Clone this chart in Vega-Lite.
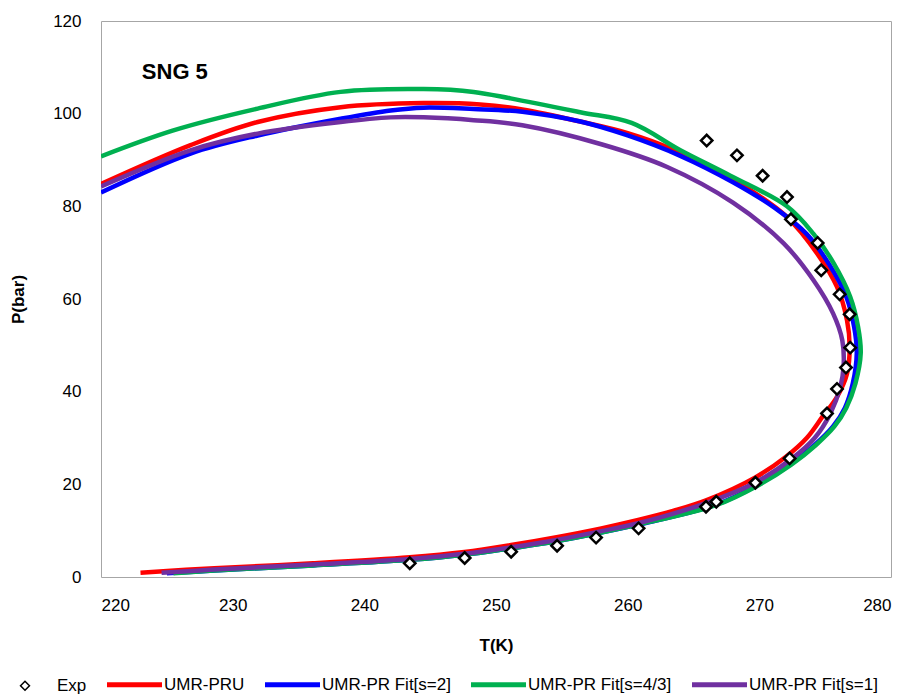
{
  "$schema": "https://vega.github.io/schema/vega-lite/v6.json",
  "width": 790,
  "height": 556,
  "autosize": {"type": "none"},
  "padding": {"left": 101, "top": 21, "right": 22, "bottom": 119},
  "background": "white",
  "config": {
    "view": {"stroke": "#a6a6a6", "strokeWidth": 1},
    "font": "Liberation Sans"
  },
  "datasets": {
    "curves": [
      {"series": "UMR-PRU", "i": 1, "T": 223.0, "P": 0.93},
      {"series": "UMR-PRU", "i": 2, "T": 228.6, "P": 1.9},
      {"series": "UMR-PRU", "i": 3, "T": 236.1, "P": 2.95},
      {"series": "UMR-PRU", "i": 4, "T": 243.45, "P": 4.25},
      {"series": "UMR-PRU", "i": 5, "T": 247.6, "P": 5.4},
      {"series": "UMR-PRU", "i": 6, "T": 251.15, "P": 6.9},
      {"series": "UMR-PRU", "i": 7, "T": 254.6, "P": 8.6},
      {"series": "UMR-PRU", "i": 8, "T": 258.0, "P": 10.5},
      {"series": "UMR-PRU", "i": 9, "T": 260.8, "P": 12.3},
      {"series": "UMR-PRU", "i": 10, "T": 263.5, "P": 14.3},
      {"series": "UMR-PRU", "i": 11, "T": 266.0, "P": 16.6},
      {"series": "UMR-PRU", "i": 12, "T": 269.7, "P": 21.5},
      {"series": "UMR-PRU", "i": 13, "T": 272.0, "P": 25.9},
      {"series": "UMR-PRU", "i": 14, "T": 273.6, "P": 30.0},
      {"series": "UMR-PRU", "i": 15, "T": 274.8, "P": 34.6},
      {"series": "UMR-PRU", "i": 16, "T": 275.9, "P": 38.9},
      {"series": "UMR-PRU", "i": 17, "T": 276.66, "P": 43.9},
      {"series": "UMR-PRU", "i": 18, "T": 276.86, "P": 49.7},
      {"series": "UMR-PRU", "i": 19, "T": 276.66, "P": 55.4},
      {"series": "UMR-PRU", "i": 20, "T": 275.9, "P": 62.6},
      {"series": "UMR-PRU", "i": 21, "T": 274.4, "P": 69.8},
      {"series": "UMR-PRU", "i": 22, "T": 272.1, "P": 77.7},
      {"series": "UMR-PRU", "i": 23, "T": 268.0, "P": 85.8},
      {"series": "UMR-PRU", "i": 24, "T": 263.5, "P": 92.2},
      {"series": "UMR-PRU", "i": 25, "T": 260.0, "P": 95.8},
      {"series": "UMR-PRU", "i": 26, "T": 256.4, "P": 98.3},
      {"series": "UMR-PRU", "i": 27, "T": 252.0, "P": 100.9},
      {"series": "UMR-PRU", "i": 28, "T": 248.8, "P": 102.0},
      {"series": "UMR-PRU", "i": 29, "T": 244.5, "P": 102.3},
      {"series": "UMR-PRU", "i": 30, "T": 238.2, "P": 101.4},
      {"series": "UMR-PRU", "i": 31, "T": 231.9, "P": 98.2},
      {"series": "UMR-PRU", "i": 32, "T": 226.8, "P": 93.2},
      {"series": "UMR-PRU", "i": 33, "T": 220.0, "P": 84.8},

      {"series": "UMR-PR Fit[s=2]", "i": 1, "T": 225.0, "P": 0.8},
      {"series": "UMR-PR Fit[s=2]", "i": 2, "T": 228.6, "P": 1.4},
      {"series": "UMR-PR Fit[s=2]", "i": 3, "T": 236.1, "P": 2.5},
      {"series": "UMR-PR Fit[s=2]", "i": 4, "T": 243.45, "P": 3.7},
      {"series": "UMR-PR Fit[s=2]", "i": 5, "T": 247.6, "P": 4.8},
      {"series": "UMR-PR Fit[s=2]", "i": 6, "T": 251.15, "P": 6.2},
      {"series": "UMR-PR Fit[s=2]", "i": 7, "T": 254.6, "P": 7.7},
      {"series": "UMR-PR Fit[s=2]", "i": 8, "T": 258.0, "P": 9.6},
      {"series": "UMR-PR Fit[s=2]", "i": 9, "T": 260.8, "P": 11.3},
      {"series": "UMR-PR Fit[s=2]", "i": 10, "T": 266.7, "P": 15.6},
      {"series": "UMR-PR Fit[s=2]", "i": 11, "T": 269.7, "P": 19.6},
      {"series": "UMR-PR Fit[s=2]", "i": 12, "T": 272.3, "P": 24.2},
      {"series": "UMR-PR Fit[s=2]", "i": 13, "T": 274.2, "P": 28.5},
      {"series": "UMR-PR Fit[s=2]", "i": 14, "T": 275.6, "P": 32.5},
      {"series": "UMR-PR Fit[s=2]", "i": 15, "T": 276.5, "P": 36.5},
      {"series": "UMR-PR Fit[s=2]", "i": 16, "T": 277.1, "P": 41.8},
      {"series": "UMR-PR Fit[s=2]", "i": 17, "T": 277.4, "P": 48.3},
      {"series": "UMR-PR Fit[s=2]", "i": 18, "T": 277.2, "P": 54.0},
      {"series": "UMR-PR Fit[s=2]", "i": 19, "T": 276.6, "P": 60.5},
      {"series": "UMR-PR Fit[s=2]", "i": 20, "T": 275.3, "P": 67.5},
      {"series": "UMR-PR Fit[s=2]", "i": 21, "T": 273.6, "P": 74.0},
      {"series": "UMR-PR Fit[s=2]", "i": 22, "T": 271.2, "P": 79.6},
      {"series": "UMR-PR Fit[s=2]", "i": 23, "T": 268.0, "P": 85.2},
      {"series": "UMR-PR Fit[s=2]", "i": 24, "T": 264.0, "P": 90.9},
      {"series": "UMR-PR Fit[s=2]", "i": 25, "T": 260.0, "P": 95.3},
      {"series": "UMR-PR Fit[s=2]", "i": 26, "T": 256.4, "P": 98.3},
      {"series": "UMR-PR Fit[s=2]", "i": 27, "T": 252.0, "P": 100.4},
      {"series": "UMR-PR Fit[s=2]", "i": 28, "T": 248.3, "P": 101.0},
      {"series": "UMR-PR Fit[s=2]", "i": 29, "T": 244.5, "P": 101.3},
      {"series": "UMR-PR Fit[s=2]", "i": 30, "T": 242.0, "P": 100.7},
      {"series": "UMR-PR Fit[s=2]", "i": 31, "T": 238.2, "P": 98.9},
      {"series": "UMR-PR Fit[s=2]", "i": 32, "T": 231.9, "P": 95.3},
      {"series": "UMR-PR Fit[s=2]", "i": 33, "T": 226.8, "P": 91.4},
      {"series": "UMR-PR Fit[s=2]", "i": 34, "T": 220.0, "P": 83.0},

      {"series": "UMR-PR Fit[s=4/3]", "i": 1, "T": 225.5, "P": 0.8},
      {"series": "UMR-PR Fit[s=4/3]", "i": 2, "T": 228.6, "P": 1.4},
      {"series": "UMR-PR Fit[s=4/3]", "i": 3, "T": 236.1, "P": 2.5},
      {"series": "UMR-PR Fit[s=4/3]", "i": 4, "T": 243.45, "P": 3.7},
      {"series": "UMR-PR Fit[s=4/3]", "i": 5, "T": 247.6, "P": 4.8},
      {"series": "UMR-PR Fit[s=4/3]", "i": 6, "T": 251.15, "P": 6.2},
      {"series": "UMR-PR Fit[s=4/3]", "i": 7, "T": 254.6, "P": 7.7},
      {"series": "UMR-PR Fit[s=4/3]", "i": 8, "T": 258.0, "P": 9.6},
      {"series": "UMR-PR Fit[s=4/3]", "i": 9, "T": 260.8, "P": 11.3},
      {"series": "UMR-PR Fit[s=4/3]", "i": 10, "T": 266.8, "P": 15.6},
      {"series": "UMR-PR Fit[s=4/3]", "i": 11, "T": 269.8, "P": 19.6},
      {"series": "UMR-PR Fit[s=4/3]", "i": 12, "T": 272.4, "P": 24.2},
      {"series": "UMR-PR Fit[s=4/3]", "i": 13, "T": 274.3, "P": 28.5},
      {"series": "UMR-PR Fit[s=4/3]", "i": 14, "T": 275.7, "P": 32.5},
      {"series": "UMR-PR Fit[s=4/3]", "i": 15, "T": 276.6, "P": 36.5},
      {"series": "UMR-PR Fit[s=4/3]", "i": 16, "T": 277.3, "P": 41.8},
      {"series": "UMR-PR Fit[s=4/3]", "i": 17, "T": 277.7, "P": 48.3},
      {"series": "UMR-PR Fit[s=4/3]", "i": 18, "T": 277.5, "P": 54.0},
      {"series": "UMR-PR Fit[s=4/3]", "i": 19, "T": 276.9, "P": 60.5},
      {"series": "UMR-PR Fit[s=4/3]", "i": 20, "T": 275.65, "P": 67.7},
      {"series": "UMR-PR Fit[s=4/3]", "i": 21, "T": 274.1, "P": 74.1},
      {"series": "UMR-PR Fit[s=4/3]", "i": 22, "T": 272.1, "P": 80.0},
      {"series": "UMR-PR Fit[s=4/3]", "i": 23, "T": 267.8, "P": 86.6},
      {"series": "UMR-PR Fit[s=4/3]", "i": 24, "T": 264.0, "P": 92.1},
      {"series": "UMR-PR Fit[s=4/3]", "i": 25, "T": 260.3, "P": 98.0},
      {"series": "UMR-PR Fit[s=4/3]", "i": 26, "T": 256.4, "P": 100.3},
      {"series": "UMR-PR Fit[s=4/3]", "i": 27, "T": 251.1, "P": 103.3},
      {"series": "UMR-PR Fit[s=4/3]", "i": 28, "T": 248.3, "P": 104.7},
      {"series": "UMR-PR Fit[s=4/3]", "i": 29, "T": 244.5, "P": 105.3},
      {"series": "UMR-PR Fit[s=4/3]", "i": 30, "T": 238.2, "P": 104.7},
      {"series": "UMR-PR Fit[s=4/3]", "i": 31, "T": 231.9, "P": 101.1},
      {"series": "UMR-PR Fit[s=4/3]", "i": 32, "T": 225.5, "P": 96.4},
      {"series": "UMR-PR Fit[s=4/3]", "i": 33, "T": 220.0, "P": 90.8},

      {"series": "UMR-PR Fit[s=1]", "i": 1, "T": 224.6, "P": 0.93},
      {"series": "UMR-PR Fit[s=1]", "i": 2, "T": 228.6, "P": 1.6},
      {"series": "UMR-PR Fit[s=1]", "i": 3, "T": 236.1, "P": 2.7},
      {"series": "UMR-PR Fit[s=1]", "i": 4, "T": 243.45, "P": 3.9},
      {"series": "UMR-PR Fit[s=1]", "i": 5, "T": 247.6, "P": 5.0},
      {"series": "UMR-PR Fit[s=1]", "i": 6, "T": 251.15, "P": 6.4},
      {"series": "UMR-PR Fit[s=1]", "i": 7, "T": 254.6, "P": 8.0},
      {"series": "UMR-PR Fit[s=1]", "i": 8, "T": 258.0, "P": 9.9},
      {"series": "UMR-PR Fit[s=1]", "i": 9, "T": 260.8, "P": 11.6},
      {"series": "UMR-PR Fit[s=1]", "i": 10, "T": 266.0, "P": 16.0},
      {"series": "UMR-PR Fit[s=1]", "i": 11, "T": 269.7, "P": 20.4},
      {"series": "UMR-PR Fit[s=1]", "i": 12, "T": 272.5, "P": 25.6},
      {"series": "UMR-PR Fit[s=1]", "i": 13, "T": 274.2, "P": 30.0},
      {"series": "UMR-PR Fit[s=1]", "i": 14, "T": 275.4, "P": 35.3},
      {"series": "UMR-PR Fit[s=1]", "i": 15, "T": 276.15, "P": 41.0},
      {"series": "UMR-PR Fit[s=1]", "i": 16, "T": 276.4, "P": 45.4},
      {"series": "UMR-PR Fit[s=1]", "i": 17, "T": 276.3, "P": 51.1},
      {"series": "UMR-PR Fit[s=1]", "i": 18, "T": 275.6, "P": 56.9},
      {"series": "UMR-PR Fit[s=1]", "i": 19, "T": 274.1, "P": 64.1},
      {"series": "UMR-PR Fit[s=1]", "i": 20, "T": 271.85, "P": 72.0},
      {"series": "UMR-PR Fit[s=1]", "i": 21, "T": 268.0, "P": 80.8},
      {"series": "UMR-PR Fit[s=1]", "i": 22, "T": 263.0, "P": 88.5},
      {"series": "UMR-PR Fit[s=1]", "i": 23, "T": 258.0, "P": 93.4},
      {"series": "UMR-PR Fit[s=1]", "i": 24, "T": 252.0, "P": 97.5},
      {"series": "UMR-PR Fit[s=1]", "i": 25, "T": 248.3, "P": 98.6},
      {"series": "UMR-PR Fit[s=1]", "i": 26, "T": 244.5, "P": 99.2},
      {"series": "UMR-PR Fit[s=1]", "i": 27, "T": 242.0, "P": 99.2},
      {"series": "UMR-PR Fit[s=1]", "i": 28, "T": 238.2, "P": 98.2},
      {"series": "UMR-PR Fit[s=1]", "i": 29, "T": 231.9, "P": 95.7},
      {"series": "UMR-PR Fit[s=1]", "i": 30, "T": 226.8, "P": 92.1},
      {"series": "UMR-PR Fit[s=1]", "i": 31, "T": 220.0, "P": 84.3}
    ],
    "exp": [
      {"series": "Exp", "T": 243.45, "P": 2.96},
      {"series": "Exp", "T": 247.62, "P": 4.1},
      {"series": "Exp", "T": 251.15, "P": 5.46},
      {"series": "Exp", "T": 254.64, "P": 6.75},
      {"series": "Exp", "T": 257.6, "P": 8.5},
      {"series": "Exp", "T": 260.83, "P": 10.5},
      {"series": "Exp", "T": 265.95, "P": 15.16},
      {"series": "Exp", "T": 266.73, "P": 16.24},
      {"series": "Exp", "T": 269.7, "P": 20.34},
      {"series": "Exp", "T": 272.3, "P": 25.6},
      {"series": "Exp", "T": 275.14, "P": 35.3},
      {"series": "Exp", "T": 275.9, "P": 40.6},
      {"series": "Exp", "T": 276.58, "P": 45.2},
      {"series": "Exp", "T": 276.9, "P": 49.5},
      {"series": "Exp", "T": 276.86, "P": 56.7},
      {"series": "Exp", "T": 276.1, "P": 61.0},
      {"series": "Exp", "T": 274.7, "P": 66.2},
      {"series": "Exp", "T": 274.43, "P": 72.1},
      {"series": "Exp", "T": 272.4, "P": 77.2},
      {"series": "Exp", "T": 272.1, "P": 82.0},
      {"series": "Exp", "T": 270.25, "P": 86.6},
      {"series": "Exp", "T": 268.3, "P": 91.0},
      {"series": "Exp", "T": 266.0, "P": 94.2}
    ]
  },
  "layer": [
    {
      "data": {"name": "curves"},
      "mark": {"type": "line", "strokeWidth": 4.5, "interpolate": "catmull-rom", "clip": true},
      "encoding": {
        "x": {
          "field": "T", "type": "quantitative",
          "scale": {"domain": [220, 280], "nice": false, "zero": false},
          "axis": {
            "values": [220, 230, 240, 250, 260, 270, 280],
            "grid": false, "ticks": false, "tickSize": 0, "domain": false,
            "labelFontSize": 17, "labelPadding": 20, "labelColor": "black",
            "title": "T(K)", "titleFontSize": 17, "titleFontWeight": "bold",
            "titleColor": "black",
            "titleY": 68, "titleBaseline": "middle"
          }
        },
        "y": {
          "field": "P", "type": "quantitative",
          "scale": {"domain": [0, 120], "nice": false},
          "axis": {
            "values": [0, 20, 40, 60, 80, 100, 120],
            "grid": false, "ticks": false, "tickSize": 0, "domain": false,
            "labelFontSize": 17, "labelPadding": 20, "labelColor": "black",
            "title": "P(bar)", "titleFontSize": 17, "titleFontWeight": "bold",
            "titleColor": "black",
            "titleX": -83, "titleY": 278, "titleAngle": -90,
            "titleAlign": "center", "titleBaseline": "middle"
          }
        },
        "color": {
          "field": "series", "type": "nominal",
          "scale": {
            "domain": ["Exp", "UMR-PRU", "UMR-PR Fit[s=2]", "UMR-PR Fit[s=4/3]", "UMR-PR Fit[s=1]"],
            "range": ["#000000", "#ff0000", "#0000ff", "#00b050", "#7030a0"]
          },
          "legend": {
            "orient": "none", "legendX": -101, "legendY": 655,
            "direction": "horizontal", "columns": 5, "title": null,
            "padding": 0, "symbolType": "stroke", "symbolSize": 3025,
            "symbolStrokeWidth": 5, "labelFontSize": 17, "labelOffset": 2,
            "labelColor": "black",
            "columnPadding": 10,
            "encode": {
              "symbols": {
                "update": {
                  "x": {"signal": "datum.value === 'Exp' ? 25 : 27.5"},
                  "shape": {"signal": "datum.value === 'Exp' ? 'diamond' : 'stroke'"},
                  "size": {"signal": "datum.value === 'Exp' ? 80 : 3025"},
                  "strokeWidth": {"signal": "datum.value === 'Exp' ? 1.5 : 5"},
                  "fill": {"signal": "datum.value === 'Exp' ? 'white' : 'transparent'"}
                }
              },
              "labels": {
                "update": {
                  "x": {"value": 57}
                }
              }
            }
          }
        },
        "order": {"field": "i", "type": "quantitative"}
      }
    },
    {
      "data": {"name": "exp"},
      "mark": {"type": "point", "shape": "diamond", "size": 130, "filled": true, "fill": "white", "stroke": "black", "strokeWidth": 2.5, "opacity": 1},
      "encoding": {
        "x": {"field": "T", "type": "quantitative"},
        "y": {"field": "P", "type": "quantitative"}
      }
    },
    {
      "data": {"values": [{"label": "SNG 5"}]},
      "mark": {"type": "text", "align": "left", "baseline": "middle", "fontSize": 22, "fontWeight": "bold", "color": "black"},
      "encoding": {
        "x": {"datum": 223.1},
        "y": {"datum": 109},
        "text": {"field": "label"}
      }
    }
  ]
}
